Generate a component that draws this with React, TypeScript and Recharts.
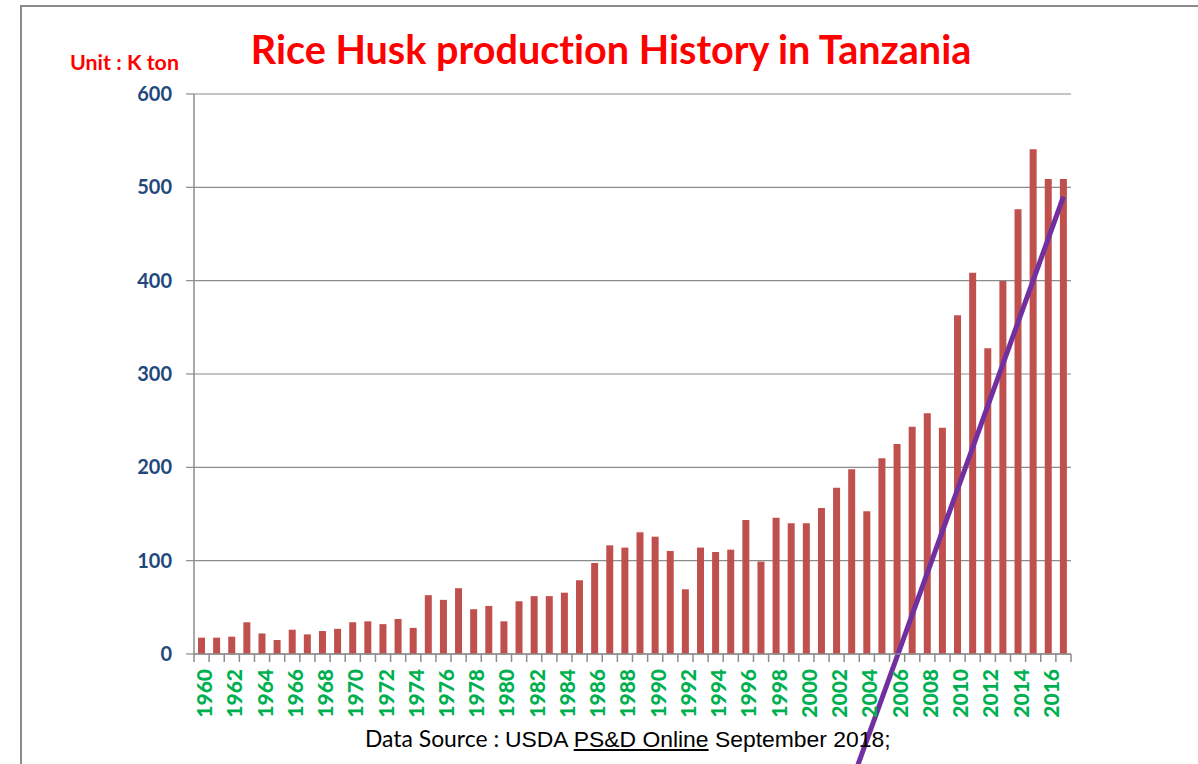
import React from 'react';
import { BarChart, Bar, XAxis, YAxis, CartesianGrid, ReferenceLine } from 'recharts';

const years: string[] = [
  '1960','1961','1962','1963','1964','1965','1966','1967','1968','1969',
  '1970','1971','1972','1973','1974','1975','1976','1977','1978','1979',
  '1980','1981','1982','1983','1984','1985','1986','1987','1988','1989',
  '1990','1991','1992','1993','1994','1995','1996','1997','1998','1999',
  '2000','2001','2002','2003','2004','2005','2006','2007','2008','2009',
  '2010','2011','2012','2013','2014','2015','2016','2017',
];

const huskValues: number[] = [
  17.5, 17.5, 18.6, 34, 22, 15, 26, 21, 24.6, 27,
  34, 35, 32, 37.5, 28, 63, 58, 70.5, 48, 51.5,
  35, 56.5, 62, 62, 65.7, 79, 97.5, 116.4, 114, 130.4,
  125.7, 110.4, 69.3, 114, 109.3, 111.8, 143.6, 99, 146, 140,
  140, 156.4, 178, 198, 153, 209.7, 225, 243.6, 258, 242.5,
  363, 408.5, 327.5, 399.6, 476.5, 540.7, 509, 509,
];

const yTicks: number[] = [0, 100, 200, 300, 400, 500, 600];

const trendYears: string[] = ['2003', '2017'];
const trendValues: number[] = [-137, 490];

const data = years.map((y, i) => ({ year: y, husk: huskValues[i] }));

const GRAY = '#8c8c8c';
const X_TICK_SIZE = 8;
const X_TICK_MARGIN = 8;

const XTick = (props: any) => {
  const { x, y, payload, index } = props;
  const off = payload && typeof payload.offset === 'number' ? payload.offset : 7.56;
  const axisY = y - X_TICK_MARGIN - X_TICK_SIZE;
  const isLast = index === years.length - 1;
  return (
    <g>
      <line x1={x - off} x2={x - off} y1={axisY} y2={axisY + X_TICK_SIZE} stroke={GRAY} strokeWidth={1.5} />
      {isLast && (
        <line x1={x + off} x2={x + off} y1={axisY} y2={axisY + X_TICK_SIZE} stroke={GRAY} strokeWidth={1.5} />
      )}
      {index % 2 === 0 && (
        <text
          transform={`translate(${x + 2},${y - 1})rotate(-90)`}
          textAnchor="end"
          dominantBaseline="central"
          fill="#00B050"
          fontFamily="Lato, 'Open Sans', sans-serif"
          fontWeight={900}
          fontSize={21}
        >
          {payload.value}
        </text>
      )}
    </g>
  );
};

export default function App() {
  return (
    <div
      style={{
        position: 'absolute',
        left: 0,
        top: 0,
        width: 1198,
        height: 764,
        overflow: 'hidden',
        background: '#ffffff',
      }}
    >
      <div
        style={{
          position: 'absolute',
          left: 20,
          top: 5,
          width: 1178,
          height: 759,
          borderTop: `2px solid ${GRAY}`,
          borderLeft: `2px solid ${GRAY}`,
        }}
      />
      <div
        style={{
          position: 'absolute',
          left: 0,
          top: 25,
          width: 1222,
          textAlign: 'center',
          color: '#FF0000',
          fontFamily: 'Lato, sans-serif',
          fontWeight: 700,
          fontSize: 39.6,
          lineHeight: '48px',
          whiteSpace: 'nowrap',
          fontVariantLigatures: 'none',
        }}
      >
        Rice Husk production History in Tanzania
      </div>
      <div
        style={{
          position: 'absolute',
          left: 70,
          top: 50,
          color: '#FF0000',
          fontFamily: 'Lato, sans-serif',
          fontWeight: 700,
          fontSize: 21.4,
          lineHeight: '24px',
          whiteSpace: 'nowrap',
        }}
      >
        Unit : K ton
      </div>
      <div style={{ position: 'absolute', left: 0, top: 0 }}>
        <BarChart
          width={1198}
          height={764}
          data={data}
          margin={{ top: 94, right: 127, left: 134, bottom: 50 }}
          barSize={7}
        >
          <CartesianGrid horizontal={true} vertical={false} stroke={GRAY} strokeWidth={1.2} />
          <XAxis
            dataKey="year"
            interval={0}
            height={60}
            axisLine={{ stroke: GRAY, strokeWidth: 1.5 }}
            tickLine={false}
            tickSize={X_TICK_SIZE}
            tickMargin={X_TICK_MARGIN}
            tick={<XTick />}
          />
          <YAxis
            width={60}
            domain={[0, 600]}
            ticks={yTicks}
            interval={0}
            axisLine={{ stroke: GRAY, strokeWidth: 1.5 }}
            tickLine={{ stroke: GRAY, strokeWidth: 1.2 }}
            tickSize={8}
            tickMargin={14}
            tick={{ fill: '#1F497D', fontFamily: 'Lato, sans-serif', fontWeight: 700, fontSize: 20 }}
          />
          <Bar dataKey="husk" fill="#C0504D" isAnimationActive={false} />
          <ReferenceLine
            segment={[
              { x: trendYears[0], y: trendValues[0] },
              { x: trendYears[1], y: trendValues[1] },
            ]}
            stroke="#7030A0"
            strokeWidth={5}
            ifOverflow="visible"
          />
        </BarChart>
      </div>
      <div
        style={{
          position: 'absolute',
          left: 365,
          top: 724,
          fontSize: 22.9,
          lineHeight: '28px',
          color: '#000000',
          whiteSpace: 'nowrap',
        }}
      >
        <span style={{ fontFamily: 'Lato, sans-serif' }}>Data Source : </span>
        <span style={{ fontFamily: "'Liberation Sans', Arial, sans-serif" }}>
          USDA <span style={{ textDecoration: 'underline' }}>PS&amp;D Online</span> September 2018;
        </span>
      </div>
    </div>
  );
}
